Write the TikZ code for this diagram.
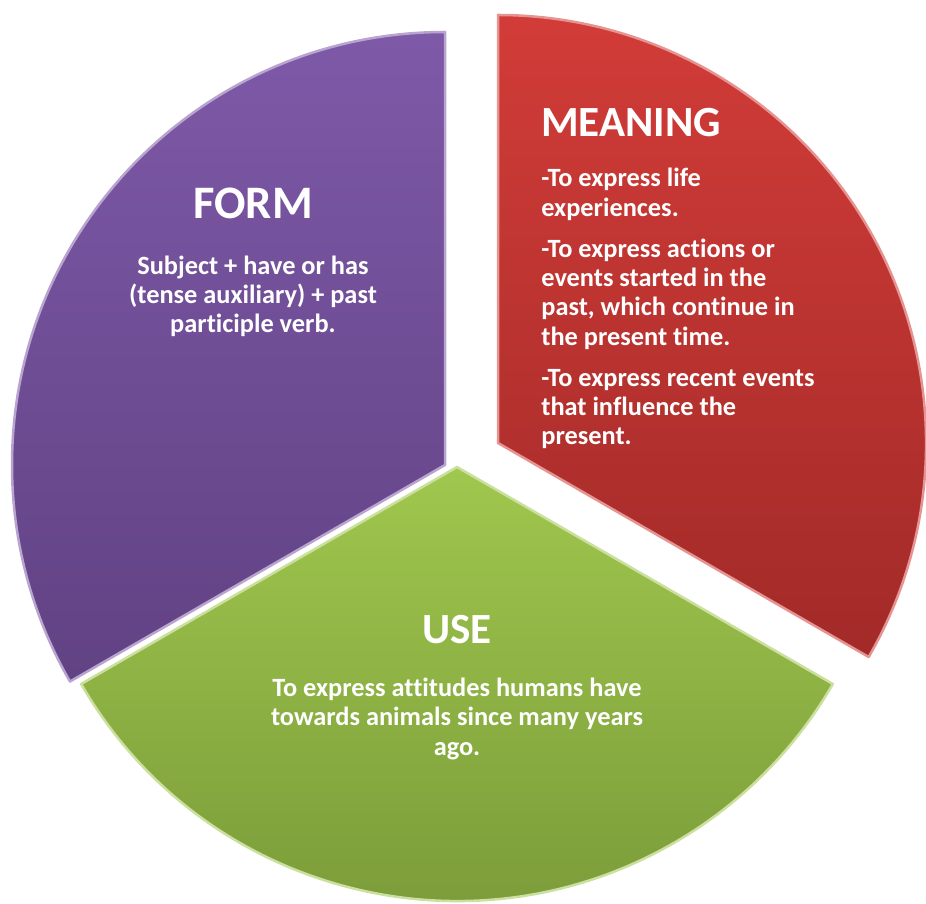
\documentclass[tikz,border=0pt]{standalone}
\usepackage{fontspec}
\setmainfont{Carlito}[Ligatures=NoCommon]
\usepackage{tikz}
\usetikzlibrary{positioning}
\definecolor{formpurple}{RGB}{126,89,168}
\definecolor{formpurpledark}{RGB}{97,66,131}
\definecolor{meanred}{RGB}{210,60,56}
\definecolor{meanreddark}{RGB}{162,42,40}
\definecolor{usegreen}{RGB}{160,199,78}
\definecolor{usegreendark}{RGB}{119,151,55}

\begin{document}
\begin{tikzpicture}[
        x=0.02cm, y=0.02cm,
        slice/.style={line width=0.05cm, line join=round},
        title/.style={text=white, inner sep=0pt, font=\fontsize{24.5}{29}\selectfont\bfseries},
        body/.style={text=white, inner sep=0pt, font=\fontsize{15}{16.7}\selectfont\bfseries}
    ]
        \useasboundingbox (0,0) rectangle (926,903);

        \coordinate (cform) at (445,438);
        \coordinate (cuse) at (457,436);
        \coordinate (cmean) at (498,460);

        % slices
        \shade[slice, top color=formpurple, bottom color=formpurpledark, draw=formpurple!55!white]
            (cform) -- ++(90:433) arc[start angle=90, end angle=210, radius=433] -- cycle;
        \shade[slice, top color=usegreen, bottom color=usegreendark, draw=usegreen!55!white]
            (cuse) -- ++(210:434) arc[start angle=210, end angle=330, radius=434] -- cycle;
        \shade[slice, top color=meanred, bottom color=meanreddark, draw=meanred!55!white]
            (cmean) -- ++(-30:428) arc[start angle=-30, end angle=90, radius=428] -- cycle;

        % texts
        \node[title, anchor=base, font=\fontsize{26.5}{30}\selectfont\bfseries] (formtitle) at (253,684) {FORM};
        \node[body, align=center, anchor=base] (formtext) at (253,570)
            {Subject + have or has\\(tense auxiliary) + past\\participle verb.};

        \node[title, anchor=base west] (meantitle) at (541,766) {MEANING};
        \node[body, align=left, anchor=base west] (meantext) at (541,458)
            {-To express life\\experiences.\\[6.7pt]-To express actions or\\events started in the\\past, which continue in\\the present time.\\[6.7pt]-To express recent events\\that influence the\\present.};

        \node[title, anchor=base] (usetitle) at (457,259) {USE};
        \node[body, align=center, anchor=base] (usetext) at (457,148)
            {To express attitudes humans have\\towards animals since many years\\ago.};

    \end{tikzpicture}
\end{document}
